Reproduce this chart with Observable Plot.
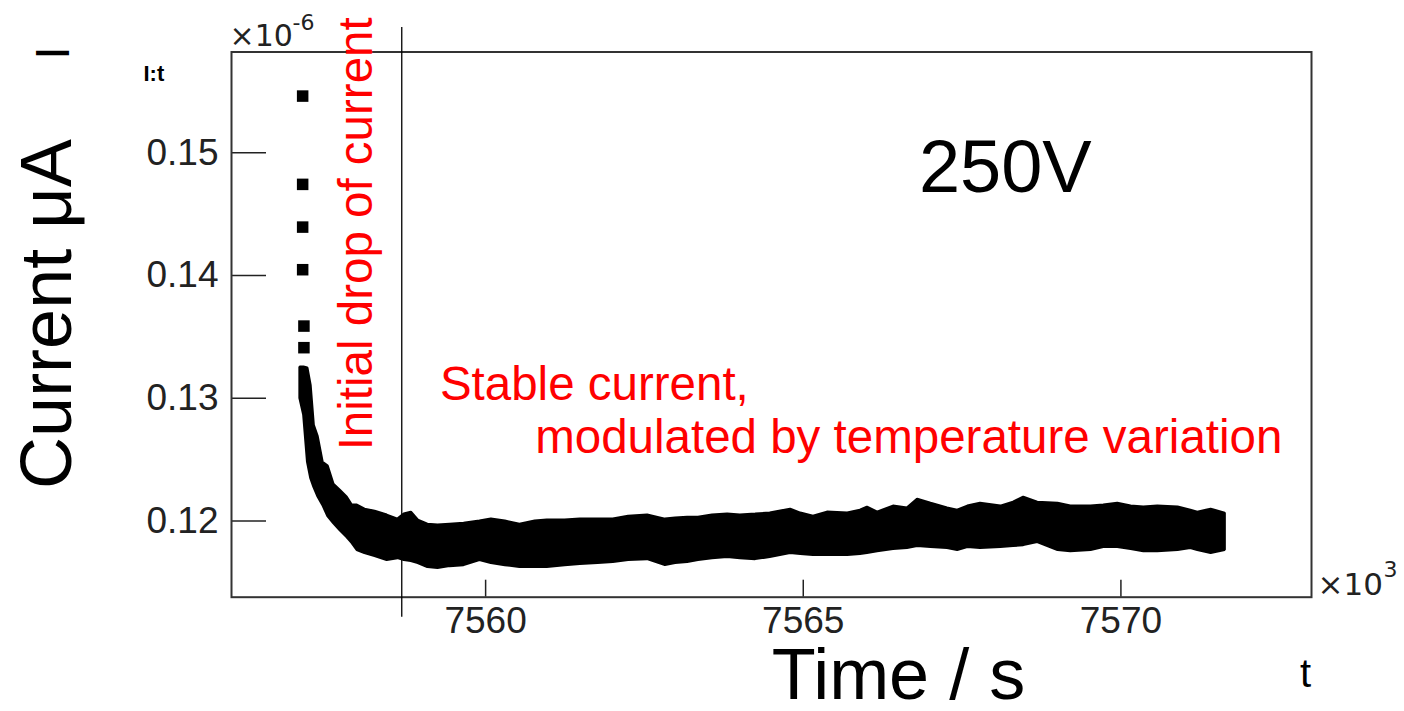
<!DOCTYPE html>
<html><head><meta charset="utf-8">
<script src="https://cdn.jsdelivr.net/npm/d3@7"></script>
<script src="https://cdn.jsdelivr.net/npm/@observablehq/plot@0.6"></script>
<style>body{margin:0;background:#fff;} svg{display:block}</style>
</head><body><div id="chart"></div>
<script>
// Axis ticks
const xTicks = [7560, 7565, 7570];
const yTicks = [0.12, 0.13, 0.14, 0.15];
const xDomain = [7556, 7573];
const yDomain = [0.1138, 0.1582];

// Dense band of measurements: time (s, ×10^3 shown), upper and lower extent (×10^-6 A)
const bandT = [7557.08, 7557.14, 7557.20, 7557.25, 7557.30, 7557.36, 7557.44, 7557.52, 7557.61, 7557.71,
  7557.82, 7557.90, 7557.98, 7558.10, 7558.26, 7558.45, 7558.62, 7558.72, 7558.83, 7558.94,
  7559.09, 7559.25, 7559.44, 7559.66, 7559.91, 7560.09, 7560.31, 7560.54, 7560.78, 7560.97,
  7561.25, 7561.49, 7561.77, 7562.01, 7562.25, 7562.55, 7562.83, 7562.99, 7563.18, 7563.35,
  7563.57, 7563.81, 7564.01, 7564.25, 7564.48, 7564.80, 7564.96, 7565.16, 7565.38, 7565.70,
  7565.90, 7566.01, 7566.17, 7566.42, 7566.64, 7566.80, 7567.01, 7567.27, 7567.43, 7567.59,
  7567.79, 7568.11, 7568.31, 7568.47, 7568.69, 7569.01, 7569.21, 7569.53, 7569.73, 7569.95,
  7570.16, 7570.36, 7570.58, 7570.90, 7571.10, 7571.21, 7571.42, 7571.64];
const bandHi = [0.13252, 0.13252, 0.13244, 0.13105, 0.12779, 0.12690, 0.12478, 0.12446, 0.12299, 0.12250,
  0.12193, 0.12128, 0.12128, 0.12095, 0.12079, 0.12047, 0.12014, 0.12055, 0.12071, 0.12006,
  0.11973, 0.11965, 0.11973, 0.11981, 0.11998, 0.12014, 0.11998, 0.11973, 0.11998, 0.12006,
  0.12006, 0.12014, 0.12014, 0.12014, 0.12038, 0.12047, 0.12014, 0.12022, 0.12030, 0.12030,
  0.12047, 0.12055, 0.12047, 0.12055, 0.12063, 0.12095, 0.12063, 0.12038, 0.12071, 0.12063,
  0.12087, 0.12112, 0.12071, 0.12120, 0.12104, 0.12177, 0.12144, 0.12104, 0.12087, 0.12120,
  0.12144, 0.12120, 0.12152, 0.12193, 0.12152, 0.12144, 0.12120, 0.12120, 0.12128, 0.12144,
  0.12120, 0.12112, 0.12120, 0.12112, 0.12087, 0.12071, 0.12095, 0.12063];
const bandLo = [0.12999, 0.12861, 0.12478, 0.12348, 0.12275, 0.12201, 0.12128, 0.12038, 0.11981, 0.11924,
  0.11867, 0.11819, 0.11762, 0.11737, 0.11713, 0.11680, 0.11696, 0.11680, 0.11672, 0.11656,
  0.11623, 0.11615, 0.11631, 0.11639, 0.11680, 0.11656, 0.11639, 0.11623, 0.11623, 0.11623,
  0.11639, 0.11648, 0.11656, 0.11664, 0.11680, 0.11688, 0.11639, 0.11656, 0.11664, 0.11680,
  0.11696, 0.11705, 0.11696, 0.11688, 0.11705, 0.11737, 0.11729, 0.11721, 0.11721, 0.11721,
  0.11729, 0.11737, 0.11753, 0.11770, 0.11778, 0.11794, 0.11786, 0.11778, 0.11762, 0.11786,
  0.11778, 0.11786, 0.11794, 0.11802, 0.11827, 0.11762, 0.11753, 0.11762, 0.11786, 0.11786,
  0.11770, 0.11753, 0.11753, 0.11762, 0.11778, 0.11762, 0.11737, 0.11762];

// Isolated first samples of the initial drop
const dropT = [7557.12, 7557.12, 7557.12, 7557.12, 7557.14, 7557.14];
const dropI = [0.15461, 0.14742, 0.14394, 0.14047, 0.13588, 0.13412];

// Annotations
const markerT = 7558.68;
const markerI = [0.11216, 0.16020];
const voltLabel = {t: 7566.82, I: 0.14677, text: "250V"};
const dropLabel = {t: 7558.21, I: 0.12576, text: "Initial drop of current"};
const stableLabels = [
  {t: 7559.28, I: 0.12983, text: "Stable current,"},
  {t: 7560.78, I: 0.12551, text: "modulated by temperature variation"}
];

const band = bandT.map((t, i) => ({t, hi: bandHi[i], lo: bandLo[i]}));
const drops = dropT.map((t, i) => ({t, I: dropI[i]}));

const ff = "'Liberation Sans', Arial, Helvetica, sans-serif";
const axisColor = "#222";

const chart = Plot.plot({
  width: 1404, height: 711,
  marginLeft: 231, marginRight: 93, marginTop: 51.5, marginBottom: 114.3,
  style: {fontFamily: ff, background: "white", color: axisColor},
  x: {domain: xDomain, label: null},
  y: {domain: yDomain, label: null},
  marks: [
    Plot.areaY(band, {x: "t", y1: "lo", y2: "hi", fill: "black", stroke: "black", strokeWidth: 2.5, strokeLinejoin: "miter"}),
    Plot.dot(drops, {x: "t", y: "I", symbol: "square", r: 6.5, fill: "black"}),
    Plot.axisX({ticks: xTicks, tickSize: -17, tickPadding: 27, fontSize: 37, label: null, tickFormat: d => String(d), stroke: axisColor, strokeWidth: 1.5}),
    Plot.axisY({ticks: yTicks, tickSize: -35, tickPadding: 48, fontSize: 37, label: null, tickFormat: d => d.toFixed(2), stroke: axisColor, strokeWidth: 1.5}),
    Plot.frame({stroke: "#333", strokeWidth: 2}),
    Plot.ruleX([markerT], {y1: markerI[0], y2: markerI[1], stroke: "black", strokeWidth: 1.3}),
    Plot.text([voltLabel], {x: "t", y: "I", text: "text", textAnchor: "start", lineAnchor: "bottom", fontSize: 74, fill: "black"}),
    Plot.text([dropLabel], {x: "t", y: "I", text: "text", rotate: -90, textAnchor: "start", lineAnchor: "bottom", fontSize: 47.5, fill: "#ff0000"}),
    Plot.text(stableLabels, {x: "t", y: "I", text: "text", textAnchor: "start", lineAnchor: "bottom", fontSize: 47.5, fill: "#ff0000"}),
    // axis titles and multipliers
    Plot.text(["Current μA"], {frameAnchor: "left", dx: -161, dy: -10.5, rotate: -90, textAnchor: "middle", lineAnchor: "bottom", fontSize: 72, fill: "black"}),
    Plot.text(["I"], {frameAnchor: "top-left", dx: -163, dy: 1, rotate: -90, textAnchor: "middle", lineAnchor: "bottom", fontSize: 48, fill: "black"}),
    Plot.text(["I:t"], {frameAnchor: "top-left", dx: -88, dy: 28.5, textAnchor: "start", lineAnchor: "bottom", fontSize: 22, fontWeight: "bold", fill: "black"}),
    Plot.text(["Time / s"], {frameAnchor: "bottom", dx: 127, dy: 102, textAnchor: "middle", lineAnchor: "bottom", fontSize: 72, fill: "black"}),
    Plot.text(["t"], {frameAnchor: "bottom-right", dx: -6, dy: 90, textAnchor: "middle", lineAnchor: "bottom", fontSize: 40, fill: "black"}),
    Plot.text(["×10"], {frameAnchor: "top-left", dx: -2, dy: -6, textAnchor: "start", lineAnchor: "bottom", fontSize: 30, fontFamily: "'DejaVu Sans', sans-serif", fill: "#222"}),
    Plot.text(["-6"], {frameAnchor: "top-left", dx: 61, dy: -22, textAnchor: "start", lineAnchor: "bottom", fontSize: 22, fontFamily: "'DejaVu Sans', sans-serif", fill: "#222"}),
    Plot.text(["×10"], {frameAnchor: "bottom-right", dx: 6, dy: -2, textAnchor: "start", lineAnchor: "bottom", fontSize: 31, fontFamily: "'DejaVu Sans', sans-serif", fill: "#222"}),
    Plot.text(["3"], {frameAnchor: "bottom-right", dx: 72, dy: -20, textAnchor: "start", lineAnchor: "bottom", fontSize: 22, fontFamily: "'DejaVu Sans', sans-serif", fill: "#222"})
  ]
});
document.getElementById("chart").appendChild(chart);
</script>
</body></html>
